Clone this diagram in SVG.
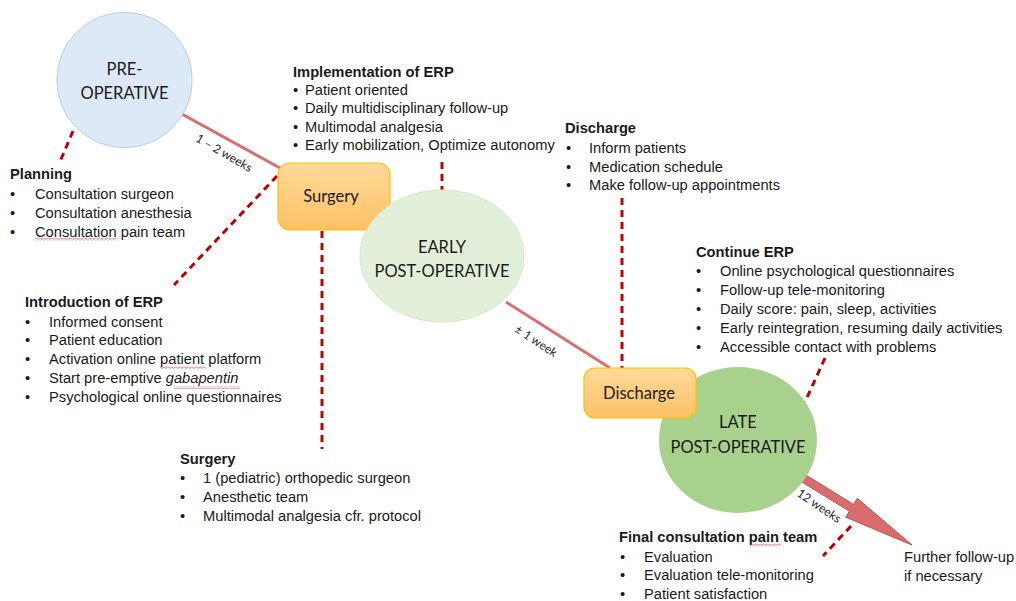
<svg xmlns="http://www.w3.org/2000/svg" width="1016" height="601" viewBox="0 0 1016 601">
<style>
.t{font-family:"Liberation Sans",Arial,sans-serif;font-size:14.7px;fill:#1a1a1a}
.b{font-weight:bold}
.c{font-family:Lato,"Open Sans",sans-serif;font-size:16.5px;fill:#1a1a1a;text-anchor:middle}
.s{font-family:Lato,"Open Sans",sans-serif;font-size:12px;fill:#222;text-anchor:middle}
.solid{stroke:#d9706f;stroke-width:3;fill:none}
.dash{stroke:#c00000;stroke-width:3;stroke-dasharray:7 5;fill:none}
.box{stroke:#ffc000;stroke-width:1.2;fill:url(#gold)}
</style>
<defs>
<linearGradient id="gold" x1="0" y1="0" x2="0" y2="1">
<stop offset="0" stop-color="#ffda9a"/>
<stop offset="1" stop-color="#fcc165"/>
</linearGradient>
<pattern id="sq" width="4" height="3" patternUnits="userSpaceOnUse">
<path d="M0,0.5 L2,2.5 L4,0.5" fill="none" stroke="#e03030" stroke-width="0.8"/>
</pattern>
</defs>
<rect width="1016" height="601" fill="#ffffff"/>

<g id="connectors">
<line class="solid" x1="180" y1="113" x2="280" y2="168"/>
<line class="solid" x1="506" y1="302" x2="610" y2="368"/>
<line class="dash" x1="73" y1="131" x2="59" y2="164"/>
<line class="dash" x1="277" y1="176" x2="174" y2="285"/>
<line class="dash" x1="322" y1="231" x2="322" y2="449"/>
<line class="dash" x1="442" y1="162" x2="442" y2="190"/>
<line class="dash" x1="622" y1="198" x2="622" y2="368"/>
<line class="dash" x1="825" y1="358" x2="805" y2="402"/>
<line class="dash" x1="851" y1="526" x2="823" y2="556"/>
<polygon points="805.1,474.6 853.6,504.4 857.3,498.4 912,545 845.7,517.2 849.4,511.2 800.9,481.4" fill="#d96c6c" stroke="#c4504d" stroke-width="1"/>
<text class="s" transform="translate(224,153) rotate(30)" dy="4">1 – 2 weeks</text>
<text class="s" transform="translate(536,341) rotate(33)" dy="4">± 1 week</text>
<text class="s" transform="translate(819,506) rotate(34)" dy="4">12 weeks</text>
</g>

<g id="pre-operative">
<circle cx="124.5" cy="80" r="67.5" fill="#dde9f6" stroke="#b3cde8" stroke-width="1"/>
<text class="c" x="124.5" y="75">PRE-</text>
<text class="c" x="124.5" y="99">OPERATIVE</text>
</g>

<g id="surgery">
<rect class="box" x="278" y="163" width="112" height="67" rx="12"/>
<text class="c" x="331" y="202">Surgery</text>
</g>

<g id="early-post-operative">
<ellipse cx="442" cy="256" rx="82" ry="66" fill="#e2f0d9" stroke="#d3e8c5" stroke-width="1"/>
<text class="c" x="442" y="253">EARLY</text>
<text class="c" x="442" y="277">POST-OPERATIVE</text>
</g>

<g id="late-post-operative">
<ellipse cx="738" cy="440" rx="79" ry="73" fill="#a9d18e"/>
<text class="c" x="738" y="428">LATE</text>
<text class="c" x="738" y="453">POST-OPERATIVE</text>
</g>

<g id="discharge">
<rect class="box" x="584" y="368" width="112" height="50" rx="11"/>
<text class="c" x="639" y="399">Discharge</text>
</g>

<g id="further-follow-up">
<text class="t" x="904" y="562">Further follow-up</text>
<text class="t" x="904" y="581">if necessary</text>
</g>

<g id="planning">
<text class="t b" x="10" y="179">Planning</text>
<text class="t" x="10" y="199">•</text><text class="t" x="35" y="199">Consultation surgeon</text>
<text class="t" x="10" y="218">•</text><text class="t" x="35" y="218">Consultation anesthesia</text>
<text class="t" x="10" y="237">•</text><text class="t" x="35" y="237">Consultation pain team</text>
<rect x="35" y="238" width="82" height="3" fill="url(#sq)"/>
</g>

<g id="introduction-erp">
<text class="t b" x="25" y="307">Introduction of ERP</text>
<text class="t" x="25" y="327">•</text><text class="t" x="49" y="327">Informed consent</text>
<text class="t" x="25" y="345">•</text><text class="t" x="49" y="345">Patient education</text>
<text class="t" x="25" y="364">•</text><text class="t" x="49" y="364">Activation online patient platform</text>
<text class="t" x="25" y="383">•</text><text class="t" x="49" y="383">Start pre-emptive <tspan font-style="italic">gabapentin</tspan></text>
<text class="t" x="25" y="402">•</text><text class="t" x="49" y="402">Psychological online questionnaires</text>
<rect x="160" y="366" width="46" height="3" fill="url(#sq)"/>
<rect x="174" y="386" width="66" height="3" fill="url(#sq)"/>
</g>

<g id="surgery-details">
<text class="t b" x="180" y="464">Surgery</text>
<text class="t" x="180" y="483">•</text><text class="t" x="203" y="483">1 (pediatric) orthopedic surgeon</text>
<text class="t" x="180" y="502">•</text><text class="t" x="203" y="502">Anesthetic team</text>
<text class="t" x="180" y="521">•</text><text class="t" x="203" y="521">Multimodal analgesia cfr. protocol</text>
</g>

<g id="implementation-erp">
<text class="t b" x="293" y="77">Implementation of ERP</text>
<text class="t" x="293" y="95">•</text><text class="t" x="305" y="95">Patient oriented</text>
<text class="t" x="293" y="113">•</text><text class="t" x="305" y="113">Daily multidisciplinary follow-up</text>
<text class="t" x="293" y="132">•</text><text class="t" x="305" y="132">Multimodal analgesia</text>
<text class="t" x="293" y="150">•</text><text class="t" x="305" y="150">Early mobilization, Optimize autonomy</text>
</g>

<g id="discharge-details">
<text class="t b" x="565" y="133">Discharge</text>
<text class="t" x="566" y="153">•</text><text class="t" x="589" y="153">Inform patients</text>
<text class="t" x="566" y="172">•</text><text class="t" x="589" y="172">Medication schedule</text>
<text class="t" x="566" y="190">•</text><text class="t" x="589" y="190">Make follow-up appointments</text>
</g>

<g id="continue-erp">
<text class="t b" x="696" y="257">Continue ERP</text>
<text class="t" x="696" y="276">•</text><text class="t" x="720" y="276">Online psychological questionnaires</text>
<text class="t" x="696" y="295">•</text><text class="t" x="720" y="295">Follow-up tele-monitoring</text>
<text class="t" x="696" y="314">•</text><text class="t" x="720" y="314">Daily score: pain, sleep, activities</text>
<text class="t" x="696" y="333">•</text><text class="t" x="720" y="333">Early reintegration, resuming daily activities</text>
<text class="t" x="696" y="352">•</text><text class="t" x="720" y="352">Accessible contact with problems</text>
</g>

<g id="final-consultation">
<text class="t b" x="619" y="542">Final consultation pain team</text>
<text class="t" x="620" y="562">•</text><text class="t" x="644" y="562">Evaluation</text>
<text class="t" x="620" y="580">•</text><text class="t" x="644" y="580">Evaluation tele-monitoring</text>
<text class="t" x="620" y="599">•</text><text class="t" x="644" y="599">Patient satisfaction</text>
<rect x="750" y="544" width="31" height="3" fill="url(#sq)"/>
</g>
</svg>
